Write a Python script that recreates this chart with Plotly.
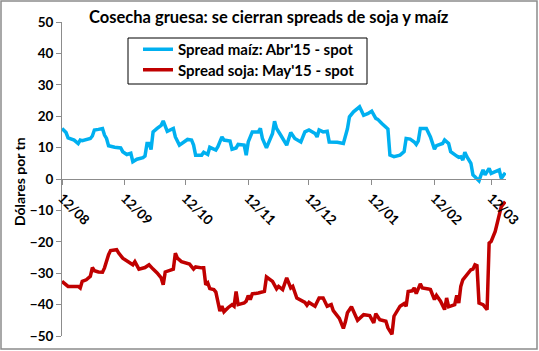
import plotly.graph_objects as go

# --- Data ---
maiz_dates = [
    "2014-08-12", "2014-08-14", "2014-08-15", "2014-08-18", "2014-08-20", "2014-08-21", "2014-08-22",
    "2014-08-26", "2014-08-27", "2014-08-28", "2014-08-30", "2014-09-01", "2014-09-02", "2014-09-03",
    "2014-09-04", "2014-09-07", "2014-09-10", "2014-09-11", "2014-09-13", "2014-09-15", "2014-09-16",
    "2014-09-18", "2014-09-21", "2014-09-22", "2014-09-23", "2014-09-24", "2014-09-25", "2014-09-26",
    "2014-09-28", "2014-09-30", "2014-10-01", "2014-10-02", "2014-10-03", "2014-10-06", "2014-10-07",
    "2014-10-09", "2014-10-11", "2014-10-13", "2014-10-15", "2014-10-16", "2014-10-17", "2014-10-20",
    "2014-10-21", "2014-10-22", "2014-10-23", "2014-10-24", "2014-10-27", "2014-10-28", "2014-10-30",
    "2014-10-31", "2014-11-03", "2014-11-04", "2014-11-06", "2014-11-07", "2014-11-10", "2014-11-11",
    "2014-11-12", "2014-11-14", "2014-11-17", "2014-11-18", "2014-11-19", "2014-11-21", "2014-11-24",
    "2014-11-25", "2014-11-26", "2014-11-28", "2014-12-01", "2014-12-03", "2014-12-05", "2014-12-08",
    "2014-12-10", "2014-12-12", "2014-12-15", "2014-12-16", "2014-12-17", "2014-12-19", "2014-12-21",
    "2014-12-22", "2014-12-26", "2014-12-29", "2014-12-31", "2015-01-01", "2015-01-03", "2015-01-06",
    "2015-01-08", "2015-01-10", "2015-01-12", "2015-01-14", "2015-01-15", "2015-01-17", "2015-01-20",
    "2015-01-21", "2015-01-23", "2015-01-26", "2015-01-28", "2015-01-29", "2015-01-31", "2015-02-02",
    "2015-02-03", "2015-02-04", "2015-02-05", "2015-02-08", "2015-02-10", "2015-02-12", "2015-02-13",
    "2015-02-16", "2015-02-17", "2015-02-19", "2015-02-20", "2015-02-23", "2015-02-24", "2015-02-25",
    "2015-02-26", "2015-02-27", "2015-02-28", "2015-03-02", "2015-03-03", "2015-03-04", "2015-03-06",
    "2015-03-07", "2015-03-08", "2015-03-09", "2015-03-11", "2015-03-12", "2015-03-14", "2015-03-16",
    "2015-03-17", "2015-03-18", "2015-03-19",
]
maiz_values = [
    16.1, 14.8, 13.1, 12.4, 11.3, 12.4, 12.2,
    12.9, 13.7, 15.6, 15.8, 16.1, 14.0, 12.9,
    10.6, 10.1, 9.9, 8.7, 7.8, 8.2, 5.5,
    6.3, 6.8, 7.3, 11.3, 11.3, 9.4, 15.0,
    16.1, 17.1, 18.5, 17.1, 15.2, 16.1, 13.4,
    10.8, 11.8, 12.6, 12.4, 10.8, 7.6, 7.6,
    8.5, 8.2, 7.8, 10.1, 9.2, 10.3, 13.4,
    12.4, 12.1, 9.5, 9.9, 11.0, 10.8, 7.6,
    11.8, 15.0, 15.0, 16.1, 12.9, 9.9, 14.5,
    18.4, 16.1, 14.0, 10.8, 14.8, 12.9, 11.8,
    15.0, 15.6, 14.5, 13.4, 15.6, 15.0, 15.2,
    11.8, 11.7, 11.3, 16.0, 19.8, 21.4, 23.0,
    20.3, 20.8, 21.6, 19.3, 19.0, 17.7, 15.9,
    7.6, 7.1, 7.6, 8.7, 12.9, 12.7, 11.8,
    11.0, 12.1, 16.1, 16.1, 13.4, 9.5, 10.6,
    11.3, 12.4, 11.3, 8.7, 7.3, 6.9, 7.1,
    6.0, 8.5, 7.1, 5.0, 1.3, 0.7, -0.6,
    1.3, 2.9, 1.3, 3.4, 1.8, 2.5, 2.9,
    0.2, 1.3, 2.0,
]

soja_dates = [
    "2014-08-12", "2014-08-14", "2014-08-15", "2014-08-20", "2014-08-21", "2014-08-22", "2014-08-24",
    "2014-08-26", "2014-08-27", "2014-08-28", "2014-08-30", "2014-09-01", "2014-09-02", "2014-09-04",
    "2014-09-05", "2014-09-08", "2014-09-09", "2014-09-11", "2014-09-13", "2014-09-16", "2014-09-17",
    "2014-09-19", "2014-09-22", "2014-09-24", "2014-09-26", "2014-09-28", "2014-09-30", "2014-10-01",
    "2014-10-02", "2014-10-05", "2014-10-06", "2014-10-07", "2014-10-08", "2014-10-10", "2014-10-12",
    "2014-10-14", "2014-10-16", "2014-10-17", "2014-10-20", "2014-10-21", "2014-10-22", "2014-10-23",
    "2014-10-24", "2014-10-26", "2014-10-27", "2014-10-29", "2014-10-30", "2014-10-31", "2014-11-02",
    "2014-11-04", "2014-11-05", "2014-11-06", "2014-11-07", "2014-11-10", "2014-11-11", "2014-11-12",
    "2014-11-13", "2014-11-14", "2014-11-17", "2014-11-20", "2014-11-21", "2014-11-24", "2014-11-26",
    "2014-11-27", "2014-11-29", "2014-12-01", "2014-12-03", "2014-12-04", "2014-12-06", "2014-12-08",
    "2014-12-10", "2014-12-11", "2014-12-12", "2014-12-15", "2014-12-17", "2014-12-19", "2014-12-21",
    "2014-12-23", "2014-12-24", "2014-12-27", "2014-12-29", "2014-12-30", "2014-12-31", "2015-01-02",
    "2015-01-04", "2015-01-05", "2015-01-08", "2015-01-11", "2015-01-13", "2015-01-14", "2015-01-16",
    "2015-01-19", "2015-01-20", "2015-01-22", "2015-01-23", "2015-01-26", "2015-01-28", "2015-01-29",
    "2015-01-30", "2015-02-01", "2015-02-02", "2015-02-03", "2015-02-05", "2015-02-06", "2015-02-09",
    "2015-02-10", "2015-02-12", "2015-02-13", "2015-02-15", "2015-02-17", "2015-02-18", "2015-02-19",
    "2015-02-22", "2015-02-23", "2015-02-24", "2015-02-25", "2015-02-26", "2015-02-28", "2015-03-02",
    "2015-03-03", "2015-03-04", "2015-03-05", "2015-03-06", "2015-03-08", "2015-03-10", "2015-03-11",
    "2015-03-12", "2015-03-14", "2015-03-16", "2015-03-17", "2015-03-19",
]
soja_values = [
    -32.6, -33.7, -34.2, -34.2, -34.7, -32.6, -32.1,
    -31.0, -28.2, -29.2, -29.6, -29.7, -28.3, -24.1,
    -22.8, -22.5, -23.6, -25.2, -26.0, -27.3, -26.3,
    -28.7, -28.2, -27.3, -28.7, -29.9, -31.5, -33.7,
    -29.6, -29.1, -28.7, -23.6, -25.2, -26.3, -26.6,
    -27.1, -28.7, -28.0, -28.3, -28.3, -33.7, -33.1,
    -34.9, -35.2, -36.0, -42.1, -40.5, -42.3, -41.0,
    -40.0, -40.5, -35.8, -40.0, -39.5, -38.9, -37.1,
    -38.4, -36.6, -36.3, -35.8, -31.2, -32.6, -35.0,
    -34.2, -35.2, -31.5, -34.7, -34.2, -37.9, -38.7,
    -39.3, -40.2, -39.3, -40.5, -37.9, -37.9, -40.5,
    -40.0, -41.9, -44.4, -47.6, -45.5, -42.6, -40.7,
    -43.2, -45.0, -43.2, -43.5, -45.8, -42.9, -44.8,
    -45.3, -47.4, -49.5, -43.7, -40.5, -39.7, -40.5,
    -35.8, -35.6, -34.7, -36.5, -33.4, -34.7, -35.0,
    -35.2, -38.4, -37.1, -38.9, -41.6, -37.9, -40.7,
    -40.0, -37.1, -39.5, -34.2, -32.1, -30.5, -28.9,
    -28.7, -27.3, -27.6, -39.5, -40.0, -41.6, -20.4,
    -19.9, -16.7, -12.0, -8.8, -7.2,
]

series_names = ["Spread maíz: Abr'15 - spot", "Spread soja: May'15 - spot"]
series_colors = ["#00B0F0", "#C00000"]
title_text = "Cosecha gruesa: se cierran spreads de soja y maíz"
y_title = "Dólares por tn"
y_ticks = [-50, -40, -30, -20, -10, 0, 10, 20, 30, 40, 50]

FONT = "Lato"

fig = go.Figure()
fig.add_trace(go.Scatter(x=maiz_dates, y=maiz_values, mode="lines", name=series_names[0],
                         line=dict(color=series_colors[0], width=3.5), legend="legend"))
fig.add_trace(go.Scatter(x=soja_dates, y=soja_values, mode="lines", name=series_names[1],
                         line=dict(color=series_colors[1], width=3.5), legend="legend2"))

W, H = 539, 351
ml, mr, mt, mb = 62, 33, 22, 15
pw, ph = W - ml - mr, H - mt - mb

def px_x(p):
    return (p - ml) / pw

def px_y(p):
    return (H - mb - p) / ph

legend_font = dict(family=FONT, size=15, color="black", weight="bold")

fig.update_layout(
    width=W, height=H,
    autosize=False,
    margin=dict(l=ml, r=mr, t=mt, b=mb, pad=0, autoexpand=False),
    paper_bgcolor="white", plot_bgcolor="white",
    font=dict(family=FONT, size=13, color="black", weight="bold"),
    showlegend=True,
    legend=dict(x=px_x(138), y=px_y(49.5), xanchor="left", yanchor="middle",
                bgcolor="rgba(0,0,0,0)", borderwidth=0, font=legend_font),
    legend2=dict(x=px_x(138), y=px_y(70), xanchor="left", yanchor="middle",
                 bgcolor="rgba(0,0,0,0)", borderwidth=0, font=legend_font),
    xaxis=dict(
        type="date",
        range=["2014-08-12", "2015-03-19 08:00"],
        anchor="free", position=0.5, automargin=False,
        showgrid=False, zeroline=False,
        showline=True, linecolor="#8c8c8c", linewidth=1,
        ticks="outside", ticklen=5, tickcolor="#8c8c8c",
        tick0="2014-08-12", dtick="M1", tickformat="%d/%m",
        tickangle=45,
        tickfont=dict(family=FONT, size=13.5, color="black", weight="bold"),
    ),
    yaxis=dict(
        range=[-50, 50], tickvals=y_ticks, automargin=False,
        showgrid=False, zeroline=False,
        showline=True, linecolor="#8c8c8c", linewidth=1,
        ticks="outside", ticklen=5, tickcolor="#8c8c8c",
        tickfont=dict(family=FONT, size=13.5, color="black", weight="bold"),
    ),
    shapes=[
        dict(type="rect", xref="paper", yref="paper",
             x0=px_x(1), x1=px_x(537), y0=px_y(349), y1=px_y(1),
             line=dict(color="#8c8c8c", width=1.5), fillcolor="rgba(0,0,0,0)", layer="below"),
        dict(type="rect", xref="paper", yref="paper",
             x0=px_x(128), x1=px_x(367), y0=px_y(84), y1=px_y(38),
             line=dict(color="black", width=1), fillcolor="white", layer="below"),
    ],
    annotations=[
        dict(text=title_text, xref="paper", yref="paper", x=px_x(269), y=px_y(17),
             xanchor="center", yanchor="middle", showarrow=False,
             font=dict(family=FONT, size=16.5, color="black", weight="bold")),
        dict(text=y_title, xref="paper", yref="paper", x=px_x(19), y=px_y(182),
             xanchor="center", yanchor="middle", textangle=-90, showarrow=False,
             font=dict(family=FONT, size=14, color="black", weight="bold")),
    ],
)

fig.write_html("out.html")
